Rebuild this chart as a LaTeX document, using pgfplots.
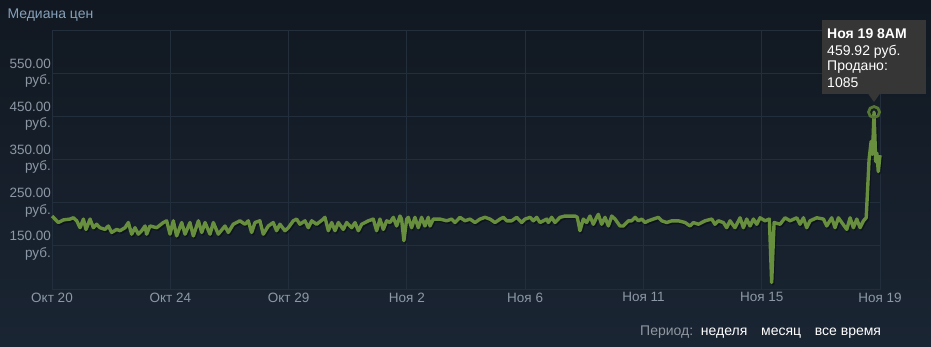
\documentclass[border=0pt]{standalone}
\usepackage{pgfplots}
\pgfplotsset{compat=1.18}
\usepackage{pgfplotstable}
\usepackage{fontspec}
\setmainfont{Liberation Sans}

\definecolor{bgtop}{RGB}{17,24,33}
\definecolor{bgbot}{RGB}{26,37,51}
\definecolor{gridc}{RGB}{35,46,60}
\definecolor{tickc}{RGB}{140,152,165}
\definecolor{titlec}{RGB}{135,160,185}
\definecolor{linec}{RGB}{104,143,62}
\definecolor{ringc}{RGB}{86,118,52}
\definecolor{tipbg}{RGB}{54,54,54}
\definecolor{periodc}{RGB}{143,152,160}

% hours since Oct 20, median price (rub.)
\pgfplotstableread{
h v
0 219
5.5 204
9.9 210
15.7 212
18.6 215
21.5 208
24.4 192
27.3 212
29.6 188
33.1 212
36 192
38.8 200
41.7 192
46.1 188
49 196
51.9 181
56.2 188
59.1 185
63.5 192
66.4 204
69.3 177
72.2 192
75.1 177
78 185
80.9 196
82.3 177
85.2 196
91 192
96.8 204
99.7 208
102.6 177
105.5 208
108.4 173
112.8 204
115.7 177
120 204
122.9 173
127.3 208
130.2 181
133.1 204
137.4 177
140.3 204
144.6 177
150.4 196
153.3 181
157.6 200
163.4 208
167.8 200
170.7 208
173.6 181
176.5 204
180.8 208
183.7 177
188.1 196
192.4 204
195.3 185
198.2 200
202.6 185
205.5 192
209.8 208
212.7 212
215.6 200
220 208
222.9 192
225.8 208
230.1 200
235.9 212
237.4 216
240.3 185
243.2 204
246.1 185
249 204
253.3 188
256.2 204
260.6 192
263.5 204
266.4 185
269.3 200
275.1 208
279.4 212
282.3 185
285.2 212
288.1 188
291 208
293.9 204
296.8 216
299.7 196
302.6 219
304 212
306 162
308.4 212
309.8 216
312.7 192
315.6 216
318.5 192
321.4 216
324.3 196
327.2 216
328.7 196
331.6 212
337.4 212
343.2 208
347.5 212
350.4 204
354.8 216
359.1 208
363.5 212
367.8 204
372.2 212
376.5 216
380.9 212
385.2 204
389.6 212
392.5 216
395.4 208
399.7 208
404.1 216
408.4 204
411.3 212
415.7 216
418.6 208
421.5 216
424.4 204
430.2 212
431.6 204
434.5 216
437.4 204
441.7 216
446.1 219
454.8 219
456.8 216
459.1 185
462 212
464.9 204
467.8 219
470.7 200
473.6 216
475.1 223
478 200
480.9 216
483.8 196
486.7 219
489.6 212
493.9 196
496.8 196
501.2 208
504.1 208
507 216
509.9 208
512.8 212
515.7 204
518.6 208
522.9 212
527.3 216
530.2 208
534.5 204
538.9 208
544.7 208
550.5 204
554.8 196
557.7 204
562.1 200
567.9 208
573.7 212
576.5 200
579.4 208
583.8 204
586.7 192
589.6 208
593.9 192
598.3 215
601.2 192
604.1 212
607 196
609.9 212
612.8 200
615.7 215
620 208
623.8 212
625.8 65
627.9 204
633.1 200
637.4 215
641.8 208
647.6 215
650.5 200
653.4 215
656.3 192
659.2 208
665 215
670.8 212
673.7 196
678 215
680.9 192
683.8 215
691.1 188
694 215
696.9 192
699.8 212
702.7 192
705.6 208
708 215
710.5 350
712.3 392
713.5 362
714.8 459.92
716.3 345
717.3 365
718.5 322
720 360
}\pricedata

\begin{document}
\begin{tikzpicture}
% page background
\shade[top color=bgtop, bottom color=bgbot] (0pt,0pt) rectangle (931pt,346pt);

\node[anchor=base west, inner sep=0pt, text=titlec,
      font=\fontsize{14}{16}\selectfont] at (7.3pt,327.7pt) {Медиана цен};

\begin{axis}[
  at={(52pt,57pt)}, anchor=south west,
  width=828pt, height=259pt, scale only axis,
  xmin=0, xmax=720, ymin=50, ymax=650,
  xtick={0,102.857,205.714,308.571,411.429,514.286,617.143,720},
  xticklabels={Окт 20,Окт 24,Окт 29,Ноя 2,Ноя 6,Ноя 11,Ноя 15,Ноя 19},
  ytick={150,250,350,450,550},
  yticklabels={{150.00\\руб.},{250.00\\руб.},{350.00\\руб.},{450.00\\руб.},{550.00\\руб.}},
  yticklabel style={align=right, anchor=east, inner sep=0pt, xshift=-1pt,
                    font=\fontsize{13.5}{16.3}\selectfont, text=tickc},
  xticklabel style={anchor=north, inner sep=0pt, yshift=-3.5pt,
                    font=\fontsize{13.5}{16}\selectfont, text=tickc},
  major tick length=0pt,
  grid=major, grid style={gridc, line width=1pt},
  axis line style={gridc, line width=1pt},
  clip=false,
]
% soft shadow under the price line
\addplot[black, opacity=0.35, line width=3.4pt, line join=round, no markers,
         transform canvas={xshift=1.2pt, yshift=-1.6pt}] table[x=h, y=v] {\pricedata};
% median price line
\addplot[linec, line width=3.4pt, line join=round, no markers] table[x=h, y=v] {\pricedata};
% highlighted hour
\addplot[only marks, mark=o, mark size=5.5pt,
         mark options={draw=ringc, line width=2.8pt}] coordinates {(714.8,459.92)};
\coordinate (pk) at (axis cs:714.8,459.92);
\end{axis}

% tooltip for the highlighted hour
\fill[tipbg, shift={(pk)}] (-52pt,18pt) rectangle (52pt,92pt);
\fill[tipbg, shift={(pk)}] (-6pt,18.5pt) -- (6pt,18.5pt) -- (0pt,10pt) -- cycle;
\begin{scope}[shift={(pk)}, every node/.style={anchor=base west, inner sep=0pt,
      text=white, font=\fontsize{14}{16}\selectfont}]
  \node at (-47pt,73.3pt) {\bfseries Ноя 19 8AM};
  \node at (-47pt,57pt) {459.92 руб.};
  \node at (-47pt,41.4pt) {Продано:};
  \node at (-47pt,25pt) {1085};
\end{scope}

% period switch
\begin{scope}[every node/.style={anchor=base west, inner sep=0pt,
      font=\fontsize{14}{16}\selectfont}]
  \node[text=periodc] at (640pt,11pt) {Период:};
  \node[text=white] at (700.7pt,11pt) {неделя};
  \node[text=white] at (761pt,11pt) {месяц};
  \node[text=white] at (814.7pt,11pt) {все время};
\end{scope}

\pgfresetboundingbox
\path[use as bounding box] (0pt,0pt) rectangle (931pt,346pt);
\end{tikzpicture}
\end{document}
